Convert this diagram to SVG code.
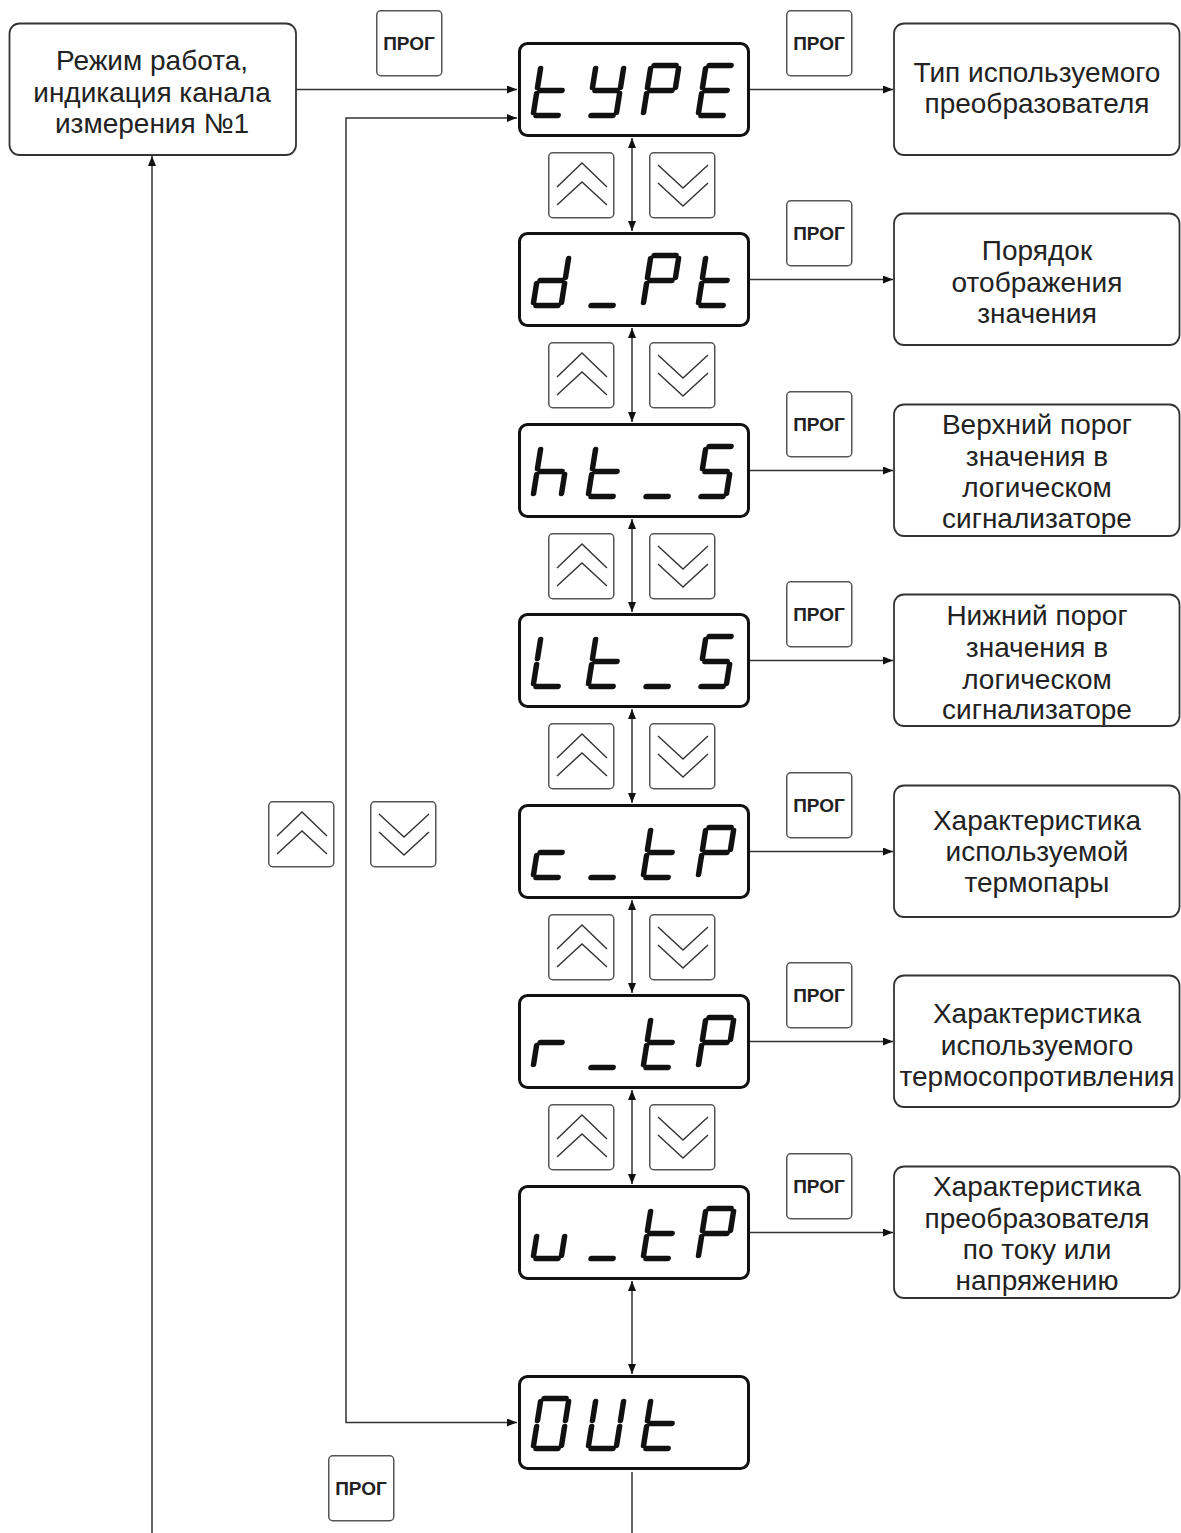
<svg xmlns="http://www.w3.org/2000/svg" xmlns:xlink="http://www.w3.org/1999/xlink" width="1181" height="1533" viewBox="0 0 1181 1533">
<style>
.box{fill:#fff;stroke:#333;stroke-width:1.8}
.disp{fill:#fff;stroke:#111;stroke-width:3}
.btn{fill:#fff;stroke:#555;stroke-width:1.5}
.chev{fill:none;stroke:#333;stroke-width:1.4}
.seg{stroke:#111;stroke-width:5.5;stroke-linecap:round}
.lbl{font-family:"Liberation Sans",Arial,sans-serif;font-size:28px;fill:#222;text-anchor:middle}
.prog{font-family:"Liberation Sans",Arial,sans-serif;font-size:19px;font-weight:bold;fill:#222;text-anchor:middle}
.conn{fill:none;stroke:#333;stroke-width:1.5}
</style>
<defs>
<marker id="arr" viewBox="0 0 10 8" refX="10" refY="4" markerWidth="10" markerHeight="8" markerUnits="userSpaceOnUse" orient="auto-start-reverse">
<path d="M0,0 L10,4 L0,8 z" fill="#111"/>
</marker>
<line id="sa" class="seg" x1="3" y1="0" x2="25" y2="0"/>
<line id="sb" class="seg" x1="28" y1="3" x2="28" y2="22"/>
<line id="sc" class="seg" x1="28" y1="28" x2="28" y2="47"/>
<line id="sd" class="seg" x1="3" y1="50" x2="25" y2="50"/>
<line id="se" class="seg" x1="0" y1="28" x2="0" y2="47"/>
<line id="sf" class="seg" x1="0" y1="3" x2="0" y2="22"/>
<line id="sg" class="seg" x1="3" y1="25" x2="25" y2="25"/>
<g id="ch-t"><use href="#sd"/><use href="#se"/><use href="#sf"/><use href="#sg"/></g>
<g id="ch-Y"><use href="#sb"/><use href="#sc"/><use href="#sd"/><use href="#sf"/><use href="#sg"/></g>
<g id="ch-P"><use href="#sa"/><use href="#sb"/><use href="#se"/><use href="#sf"/><use href="#sg"/></g>
<g id="ch-E"><use href="#sa"/><use href="#sd"/><use href="#se"/><use href="#sf"/><use href="#sg"/></g>
<g id="ch-d"><use href="#sb"/><use href="#sc"/><use href="#sd"/><use href="#se"/><use href="#sg"/></g>
<g id="ch-_"><use href="#sd"/></g>
<g id="ch-h"><use href="#sc"/><use href="#se"/><use href="#sf"/><use href="#sg"/></g>
<g id="ch-S"><use href="#sa"/><use href="#sc"/><use href="#sd"/><use href="#sf"/><use href="#sg"/></g>
<g id="ch-L"><use href="#sd"/><use href="#se"/><use href="#sf"/></g>
<g id="ch-c"><use href="#sd"/><use href="#se"/><use href="#sg"/></g>
<g id="ch-r"><use href="#se"/><use href="#sg"/></g>
<g id="ch-u"><use href="#sc"/><use href="#sd"/><use href="#se"/></g>
<g id="ch-O"><use href="#sa"/><use href="#sb"/><use href="#sc"/><use href="#sd"/><use href="#se"/><use href="#sf"/></g>
<g id="ch-U"><use href="#sb"/><use href="#sc"/><use href="#sd"/><use href="#se"/><use href="#sf"/></g>
<g id="btn-up"><rect class="btn" x="0.75" y="0.75" width="65" height="65" rx="4"/><polyline class="chev" points="9,35 34,11 59,35"/><polyline class="chev" points="9,53 34,30 59,53"/></g>
<g id="btn-down"><rect class="btn" x="0.75" y="0.75" width="65" height="65" rx="4"/><polyline class="chev" points="9,13 34,36 59,13"/><polyline class="chev" points="9,31 34,54 59,31"/></g>
<g id="btn-prog"><rect class="btn" x="0.75" y="0.75" width="65" height="65" rx="4"/><text class="prog" x="33" y="40">ПРОГ</text></g>
</defs>

<g id="connectors">
<line class="conn" x1="296" y1="89.5" x2="517" y2="89.5" marker-end="url(#arr)"/>
<polyline class="conn" points="517,118 346,118 346,1422.5 517,1422.5" marker-start="url(#arr)" marker-end="url(#arr)"/>
<line class="conn" x1="152" y1="1533" x2="152" y2="156" marker-end="url(#arr)"/>
<line class="conn" x1="632" y1="1472" x2="632" y2="1533"/>
<line class="conn" x1="632" y1="138" x2="632" y2="231" marker-start="url(#arr)" marker-end="url(#arr)"/>
<line class="conn" x1="632" y1="328" x2="632" y2="422" marker-start="url(#arr)" marker-end="url(#arr)"/>
<line class="conn" x1="632" y1="519" x2="632" y2="612" marker-start="url(#arr)" marker-end="url(#arr)"/>
<line class="conn" x1="632" y1="709" x2="632" y2="803" marker-start="url(#arr)" marker-end="url(#arr)"/>
<line class="conn" x1="632" y1="900" x2="632" y2="993" marker-start="url(#arr)" marker-end="url(#arr)"/>
<line class="conn" x1="632" y1="1090" x2="632" y2="1184" marker-start="url(#arr)" marker-end="url(#arr)"/>
<line class="conn" x1="632" y1="1281" x2="632" y2="1374" marker-start="url(#arr)" marker-end="url(#arr)"/>
<line class="conn" x1="750" y1="89.5" x2="893" y2="89.5" marker-end="url(#arr)"/>
<line class="conn" x1="750" y1="279.5" x2="893" y2="279.5" marker-end="url(#arr)"/>
<line class="conn" x1="750" y1="470.5" x2="893" y2="470.5" marker-end="url(#arr)"/>
<line class="conn" x1="750" y1="660.5" x2="893" y2="660.5" marker-end="url(#arr)"/>
<line class="conn" x1="750" y1="851.5" x2="893" y2="851.5" marker-end="url(#arr)"/>
<line class="conn" x1="750" y1="1041.5" x2="893" y2="1041.5" marker-end="url(#arr)"/>
<line class="conn" x1="750" y1="1232.5" x2="893" y2="1232.5" marker-end="url(#arr)"/>
</g>

<g id="node-mode">
<rect class="box" x="9.5" y="23.5" width="286.5" height="131.5" rx="10"/>
<text class="lbl" x="152" y="70">Режим работа,</text>
<text class="lbl" x="152" y="102">индикация канала</text>
<text class="lbl" x="152" y="133">измерения №1</text>
</g>

<g id="btn-prog-main"><use href="#btn-prog" transform="translate(376,10)"/></g>
<g id="btn-prog-out"><use href="#btn-prog" transform="translate(328,1455)"/></g>
<g id="btn-up-left"><use href="#btn-up" transform="translate(268,801)"/></g>
<g id="btn-down-left"><use href="#btn-down" transform="translate(370,801)"/></g>

<g id="disp-type">
<rect class="disp" x="519.5" y="43.5" width="229" height="92" rx="8"/>
<use href="#ch-t" transform="translate(541,65.5) skewX(-9)"/>
<use href="#ch-Y" transform="translate(596,65.5) skewX(-9)"/>
<use href="#ch-P" transform="translate(651,65.5) skewX(-9)"/>
<use href="#ch-E" transform="translate(706,65.5) skewX(-9)"/>
</g>
<g id="disp-dpt">
<rect class="disp" x="519.5" y="233.5" width="229" height="92" rx="8"/>
<use href="#ch-d" transform="translate(541,255.5) skewX(-9)"/>
<use href="#ch-_" transform="translate(596,255.5) skewX(-9)"/>
<use href="#ch-P" transform="translate(651,255.5) skewX(-9)"/>
<use href="#ch-t" transform="translate(706,255.5) skewX(-9)"/>
</g>
<g id="disp-hts">
<rect class="disp" x="519.5" y="424.5" width="229" height="92" rx="8"/>
<use href="#ch-h" transform="translate(541,446.5) skewX(-9)"/>
<use href="#ch-t" transform="translate(596,446.5) skewX(-9)"/>
<use href="#ch-_" transform="translate(651,446.5) skewX(-9)"/>
<use href="#ch-S" transform="translate(706,446.5) skewX(-9)"/>
</g>
<g id="disp-lts">
<rect class="disp" x="519.5" y="614.5" width="229" height="92" rx="8"/>
<use href="#ch-L" transform="translate(541,636.5) skewX(-9)"/>
<use href="#ch-t" transform="translate(596,636.5) skewX(-9)"/>
<use href="#ch-_" transform="translate(651,636.5) skewX(-9)"/>
<use href="#ch-S" transform="translate(706,636.5) skewX(-9)"/>
</g>
<g id="disp-ctp">
<rect class="disp" x="519.5" y="805.5" width="229" height="92" rx="8"/>
<use href="#ch-c" transform="translate(541,827.5) skewX(-9)"/>
<use href="#ch-_" transform="translate(596,827.5) skewX(-9)"/>
<use href="#ch-t" transform="translate(651,827.5) skewX(-9)"/>
<use href="#ch-P" transform="translate(706,827.5) skewX(-9)"/>
</g>
<g id="disp-rtp">
<rect class="disp" x="519.5" y="995.5" width="229" height="92" rx="8"/>
<use href="#ch-r" transform="translate(541,1017.5) skewX(-9)"/>
<use href="#ch-_" transform="translate(596,1017.5) skewX(-9)"/>
<use href="#ch-t" transform="translate(651,1017.5) skewX(-9)"/>
<use href="#ch-P" transform="translate(706,1017.5) skewX(-9)"/>
</g>
<g id="disp-utp">
<rect class="disp" x="519.5" y="1186.5" width="229" height="92" rx="8"/>
<use href="#ch-u" transform="translate(541,1208.5) skewX(-9)"/>
<use href="#ch-_" transform="translate(596,1208.5) skewX(-9)"/>
<use href="#ch-t" transform="translate(651,1208.5) skewX(-9)"/>
<use href="#ch-P" transform="translate(706,1208.5) skewX(-9)"/>
</g>
<g id="disp-out">
<rect class="disp" x="519.5" y="1376.5" width="229" height="92" rx="8"/>
<use href="#ch-O" transform="translate(541,1398.5) skewX(-9)"/>
<use href="#ch-U" transform="translate(596,1398.5) skewX(-9)"/>
<use href="#ch-t" transform="translate(651,1398.5) skewX(-9)"/>
</g>

<g id="nav-buttons">
<use href="#btn-up" transform="translate(548,152)"/><use href="#btn-down" transform="translate(649,152)"/>
<use href="#btn-up" transform="translate(548,342)"/><use href="#btn-down" transform="translate(649,342)"/>
<use href="#btn-up" transform="translate(548,533)"/><use href="#btn-down" transform="translate(649,533)"/>
<use href="#btn-up" transform="translate(548,723)"/><use href="#btn-down" transform="translate(649,723)"/>
<use href="#btn-up" transform="translate(548,914)"/><use href="#btn-down" transform="translate(649,914)"/>
<use href="#btn-up" transform="translate(548,1104)"/><use href="#btn-down" transform="translate(649,1104)"/>
</g>
<g id="prog-buttons">
<use href="#btn-prog" transform="translate(786,10)"/>
<use href="#btn-prog" transform="translate(786,200)"/>
<use href="#btn-prog" transform="translate(786,391)"/>
<use href="#btn-prog" transform="translate(786,581)"/>
<use href="#btn-prog" transform="translate(786,772)"/>
<use href="#btn-prog" transform="translate(786,962)"/>
<use href="#btn-prog" transform="translate(786,1153)"/>
</g>

<g id="node-type">
<rect class="box" x="894" y="23.5" width="285.5" height="131.5" rx="10"/>
<text class="lbl" x="1037" y="82">Тип используемого</text>
<text class="lbl" x="1037" y="113">преобразователя</text>
</g>
<g id="node-dpt">
<rect class="box" x="894" y="213.5" width="285.5" height="131.5" rx="10"/>
<text class="lbl" x="1037" y="260">Порядок</text>
<text class="lbl" x="1037" y="292">отображения</text>
<text class="lbl" x="1037" y="323">значения</text>
</g>
<g id="node-hts">
<rect class="box" x="894" y="404.5" width="285.5" height="131.5" rx="10"/>
<text class="lbl" x="1037" y="434">Верхний порог</text>
<text class="lbl" x="1037" y="466">значения в</text>
<text class="lbl" x="1037" y="497">логическом</text>
<text class="lbl" x="1037" y="528">сигнализаторе</text>
</g>
<g id="node-lts">
<rect class="box" x="894" y="594.5" width="285.5" height="131.5" rx="10"/>
<text class="lbl" x="1037" y="625">Нижний порог</text>
<text class="lbl" x="1037" y="657">значения в</text>
<text class="lbl" x="1037" y="689">логическом</text>
<text class="lbl" x="1037" y="719">сигнализаторе</text>
</g>
<g id="node-ctp">
<rect class="box" x="894" y="785.5" width="285.5" height="131.5" rx="10"/>
<text class="lbl" x="1037" y="830">Характеристика</text>
<text class="lbl" x="1037" y="861">используемой</text>
<text class="lbl" x="1037" y="892">термопары</text>
</g>
<g id="node-rtp">
<rect class="box" x="894" y="975.5" width="285.5" height="131.5" rx="10"/>
<text class="lbl" x="1037" y="1023">Характеристика</text>
<text class="lbl" x="1037" y="1055">используемого</text>
<text class="lbl" x="1037" y="1086">термосопротивления</text>
</g>
<g id="node-utp">
<rect class="box" x="894" y="1166.5" width="285.5" height="131.5" rx="10"/>
<text class="lbl" x="1037" y="1196">Характеристика</text>
<text class="lbl" x="1037" y="1228">преобразователя</text>
<text class="lbl" x="1037" y="1259">по току или</text>
<text class="lbl" x="1037" y="1290">напряжению</text>
</g>
</svg>
